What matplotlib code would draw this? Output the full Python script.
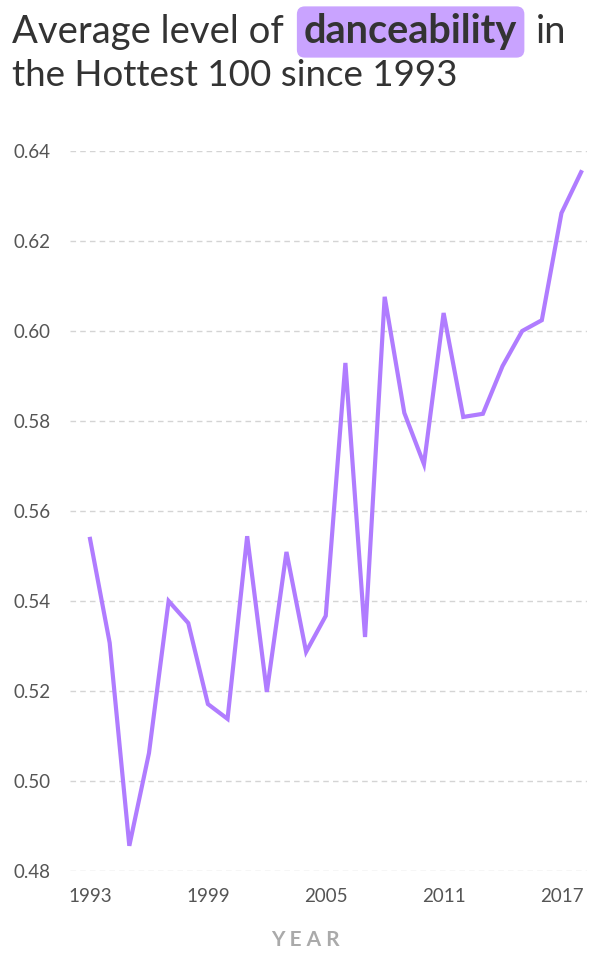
import matplotlib.pyplot as plt

plt.rcParams['font.family'] = ['Lato', 'DejaVu Sans']

# Datos
years = list(range(1993, 2019))
danceability = [0.5538, 0.5307, 0.4856, 0.5062, 0.5400, 0.5351, 0.5171, 0.5138,
                0.5544, 0.5198, 0.5509, 0.5287, 0.5367, 0.5929, 0.5320, 0.6076,
                0.5818, 0.5704, 0.6040, 0.5809, 0.5816, 0.5922, 0.6000, 0.6024,
                0.6262, 0.6353]
yticks = [0.48, 0.50, 0.52, 0.54, 0.56, 0.58, 0.60, 0.62, 0.64]
xticks = [1993, 1999, 2005, 2011, 2017]

fig = plt.figure(figsize=(6.1, 9.6), dpi=100, facecolor='white')
ax = fig.add_axes([70 / 610, 1 - 871 / 960, 517 / 610, 720 / 960])

ax.plot(years, danceability, color='#b07cff', linewidth=3, solid_joinstyle='miter')

ax.set_xlim(1991.98, 2018.3)
ax.set_ylim(0.48, 0.64)
ax.set_yticks(yticks)
ax.set_yticklabels([f'{v:.2f}' for v in yticks])
ax.set_xticks(xticks)

ax.grid(axis='y', color='#d4d4d4', linestyle=(0, (4, 3)), linewidth=1)
ax.set_axisbelow(True)
for s in ax.spines.values():
    s.set_visible(False)
ax.tick_params(axis='both', length=0, colors='#555555', labelsize=13.5)
ax.tick_params(axis='y', pad=14)
ax.tick_params(axis='x', pad=12)

# Etiqueta del eje x centrada en la figura
fig.text(0.5, 1 - 940 / 960, 'Y E A R', color='#aaaaaa', fontsize=15, fontweight='bold',
         ha='center', va='center')

# Título con la palabra resaltada
W = 610
y1 = 1 - 32 / 960
fig.text(12 / W, y1, 'Average level of', fontsize=27.5, color='#333333', va='center')
fig.text(304 / W, y1, 'danceability', fontsize=28.5, color='#333333', va='center',
         fontweight='bold',
         bbox=dict(boxstyle='round,pad=0.18,rounding_size=0.2', facecolor='#c9a3ff', edgecolor='none'))
fig.text(536 / W, y1, 'in', fontsize=27.5, color='#333333', va='center')
fig.text(12 / W, 1 - 75 / 960, 'the Hottest 100 since 1993', fontsize=26.5, color='#333333', va='center')

fig.savefig('out.png', dpi=100, facecolor='white')
